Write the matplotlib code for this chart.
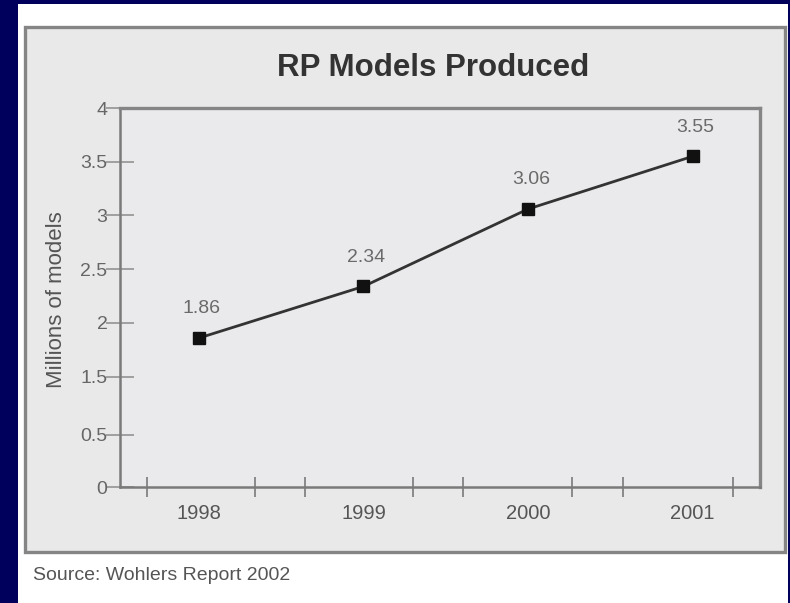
import numpy as np
import matplotlib
matplotlib.use("Agg")
import matplotlib.pyplot as plt
from matplotlib.patches import Rectangle

# ---- data ----
years = ["1998", "1999", "2000", "2001"]
models = [1.86, 2.34, 3.06, 3.55]
value_labels = ["1.86", "2.34", "3.06", "3.55"]
ytick_values = [0, 0.5, 1.5, 2, 2.5, 3, 3.5, 4]
ytick_labels = ["0", "0.5", "1.5", "2", "2.5", "3", "3.5", "4"]
title = "RP Models Produced"
ylabel = "Millions of models"
source = "Source: Wohlers Report 2002"

plt.rcParams['font.family'] = ['Liberation Sans', 'DejaVu Sans']

W, H = 790, 603
fig = plt.figure(figsize=(W / 100, H / 100), dpi=100)
fig.patch.set_facecolor('#00005c')

def fx(px):
    return px / W

def fy(py):
    return (H - py) / H

# white panel
fig.patches.append(Rectangle((fx(18), 0), fx(788) - fx(18), fy(4),
                             transform=fig.transFigure, facecolor='white',
                             edgecolor='none', zorder=0))
# chart frame
fig.patches.append(Rectangle((fx(25), fy(552)), fx(785) - fx(25), fy(27) - fy(552),
                             transform=fig.transFigure, facecolor='#e9e9e9',
                             edgecolor='#858585', linewidth=2.4, zorder=1))

ax = fig.add_axes([fx(120), fy(487), fx(760) - fx(120), fy(108) - fy(487)])
ax.set_zorder(2)
ax.set_facecolor('#eaeaec')

# piecewise-linear y scale (compressed below 1.5, as in the original)
kv = [0, 0.5, 1.5, 4]
kp = [0, 52, 110, 378]
ax.set_yscale('function', functions=(lambda v: np.interp(v, kv, kp),
                                     lambda p: np.interp(p, kp, kv)))
ax.set_ylim(0, 4)

x = np.arange(len(years))
ax.set_xlim(-0.48, 3.41)

ax.plot(x, models, color='#333333', linewidth=2.0, marker='s',
        markersize=8, markerfacecolor='#111111', markeredgecolor='#111111', zorder=3)
for xi, v, lab in zip(x, models, value_labels):
    ax.annotate(lab, (xi, v), xytext=(2, 21), textcoords='offset points',
                ha='center', va='center', fontsize=14, color='#6a6a6a')

ax.set_yticks(ytick_values)
ax.set_yticklabels(ytick_labels)
ax.set_xticks(x)
ax.set_xticklabels(years)
ax.set_xticks([-0.316, 0.34, 0.644, 1.30, 1.603, 2.265, 2.575, 3.243], minor=True)

ax.tick_params(axis='y', which='major', direction='inout', length=20, width=1.3,
               color='#9a9a9a', labelsize=14, labelcolor='#666666', pad=-1)
ax.tick_params(axis='x', which='major', length=0, labelsize=14.5,
               labelcolor='#555555', pad=12)
ax.tick_params(axis='x', which='minor', direction='inout', length=14, width=1.4,
               color='#8a8a8a')

for side in ['left', 'bottom']:
    ax.spines[side].set_color('#7a7a7a')
    ax.spines[side].set_linewidth(1.8)
for side in ['top', 'right']:
    ax.spines[side].set_color('#858585')
    ax.spines[side].set_linewidth(2.4)

fig.text(fx(433), fy(68), title, ha='center', va='center', fontsize=22.5,
         fontweight='bold', color='#333333')
fig.text(fx(57), fy(300), ylabel, ha='center', va='center', rotation=90,
         fontsize=16, color='#555555')
fig.text(fx(33), fy(575), source, ha='left', va='center', fontsize=14,
         color='#555555')

fig.savefig('out.png', dpi=100, facecolor=fig.get_facecolor())
